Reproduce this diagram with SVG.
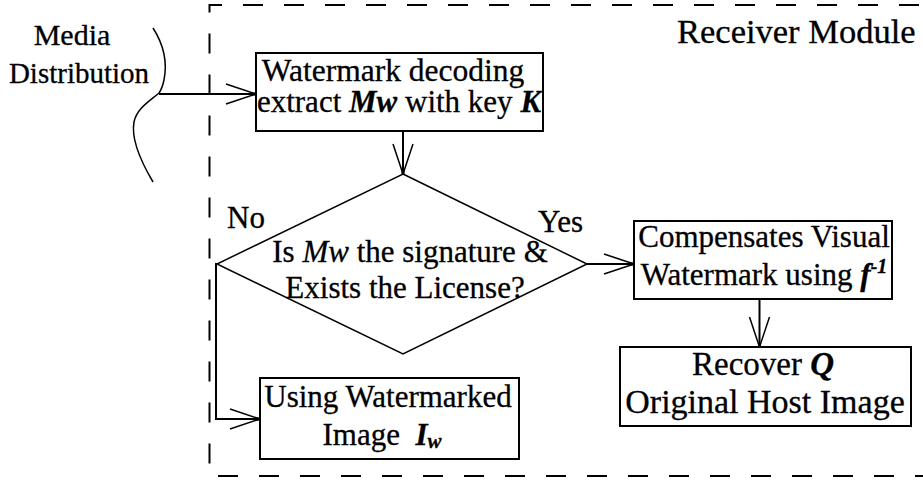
<svg xmlns="http://www.w3.org/2000/svg" width="923" height="483" viewBox="0 0 923 483">
  <style>
    text { font-family: 'Liberation Serif', 'Times New Roman', serif; font-size: 31px; fill: #000; stroke: #000; stroke-width: 0.3; }
    .c { text-anchor: middle; }
    .bi { font-weight: bold; font-style: italic; }
    .i { font-style: italic; }
    .box { fill: #fff; stroke: #000; stroke-width: 2; }
    .line { fill: none; stroke: #000; stroke-width: 2; }
    .thin { fill: none; stroke: #000; stroke-width: 1.5; }
  </style>
  <defs>
    <marker id="arrow" markerUnits="userSpaceOnUse" viewBox="0 0 32 24" markerWidth="32" markerHeight="24" refX="31" refY="12" orient="auto">
      <path d="M1,2 L31,12 L1,22" fill="none" stroke="#000" stroke-width="1.5"/>
      <rect x="27" y="10.5" width="4" height="3" fill="#000"/>
    </marker>
  </defs>

  <!-- receiver module boundary -->
  <g id="receiver-module">
    <path d="M960,5 H209.5 V476 H960" fill="none" stroke="#000" stroke-width="2" stroke-dasharray="20 21"/>
    <text x="677" y="43" style="font-size:34.5px">Receiver Module</text>
  </g>

  <!-- media distribution channel -->
  <g id="media-distribution">
    <path class="thin" d="M153,28 C162,42 168,60 164,80 Q162,89 159,93 C150,101 137,108 134,122 C131,138 140,160 153,182"/>
    <text class="c" x="72" y="45" style="font-size:30px">Media</text>
    <text class="c" x="79" y="83" style="font-size:29px">Distribution</text>
  </g>

  <g id="decode">
    <rect class="box" x="256" y="53" width="287" height="78"/>
    <text class="c" x="393" y="81" style="font-size:31.5px">Watermark decoding</text>
    <text class="c" x="399" y="112">extract <tspan class="bi">Mw</tspan> with key <tspan class="bi">K</tspan></text>
  </g>

  <g id="decision">
    <polygon class="thin" points="403,174 587,264 403,354 217,264" fill="#fff"/>
    <text class="c" x="410" y="262">Is <tspan class="i">Mw</tspan> the signature &amp;</text>
    <text class="c" x="405" y="298">Exists the License?</text>
  </g>

  <g id="compensate">
    <rect class="box" x="634" y="221" width="258" height="78"/>
    <text class="c" x="764" y="247">Compensates Visual</text>
    <text class="c" x="764" y="285">Watermark using <tspan class="bi">f</tspan><tspan class="bi" style="font-size:20px" dy="-12">-1</tspan></text>
  </g>

  <g id="recover">
    <rect class="box" x="620" y="347" width="291" height="79"/>
    <text class="c" x="763" y="375" style="font-size:33px">Recover <tspan class="bi">Q</tspan></text>
    <text class="c" x="765" y="413" style="font-size:34px">Original Host Image</text>
  </g>

  <g id="watermarked">
    <rect class="box" x="260" y="378" width="259" height="81"/>
    <text class="c" x="388" y="407">Using Watermarked</text>
    <text class="c" x="382" y="445" xml:space="preserve">Image  <tspan class="bi">I</tspan><tspan class="bi" style="font-size:21px" dy="3">w</tspan></text>
  </g>

  <!-- connectors -->
  <g id="connectors">
    <line class="line" x1="159" y1="94" x2="256" y2="94" marker-end="url(#arrow)"/>
    <line class="line" x1="403" y1="131" x2="403" y2="174" marker-end="url(#arrow)"/>
    <line class="line" x1="587" y1="264" x2="634" y2="264" marker-end="url(#arrow)"/>
    <line class="line" x1="759.5" y1="299" x2="759.5" y2="347" marker-end="url(#arrow)"/>
    <polyline class="line" points="217,264 216,264 216,419 260,419" marker-end="url(#arrow)"/>
    <text x="227" y="228">No</text>
    <text x="538" y="232">Yes</text>
  </g>
</svg>
